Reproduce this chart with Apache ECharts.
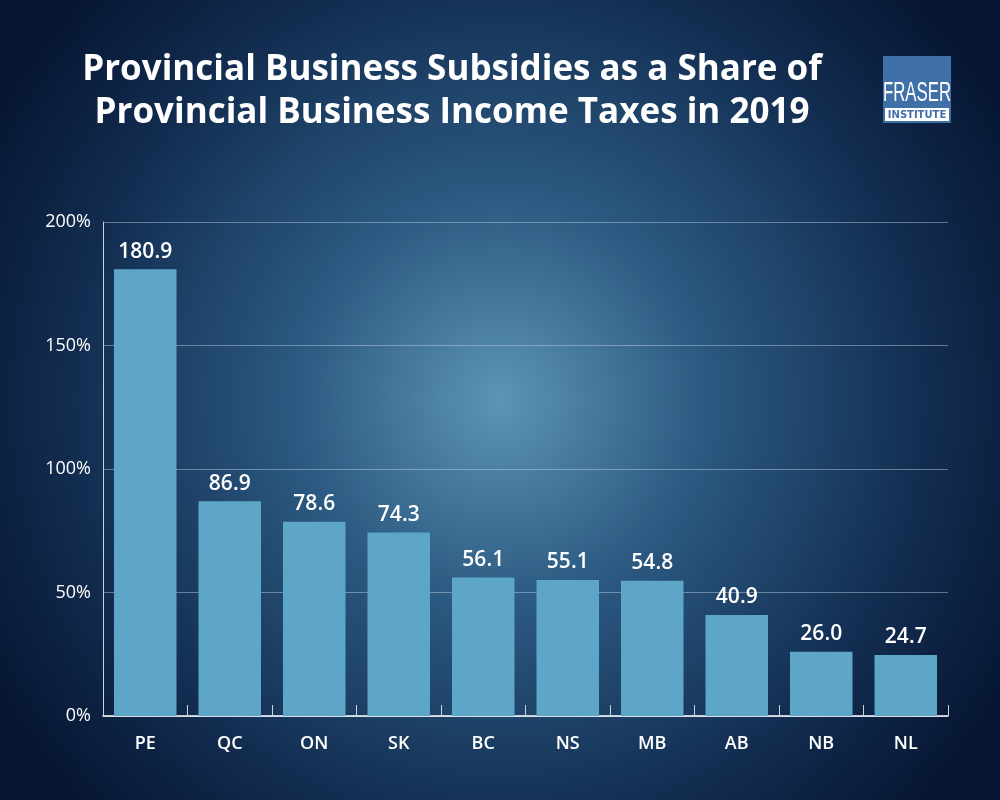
<!DOCTYPE html>
<html><head><meta charset="utf-8">
<script src="https://cdn.jsdelivr.net/npm/echarts@6/dist/echarts.min.js"></script>
<style>html,body{margin:0;padding:0;background:#0b2142}#c{width:1000px;height:800px}</style>
</head><body><div id="c"></div>
<script>
var categories = ['PE','QC','ON','SK','BC','NS','MB','AB','NB','NL'];
var values = [180.9, 86.9, 78.6, 74.3, 56.1, 55.1, 54.8, 40.9, 26.0, 24.7];
var yTicks = [0, 50, 100, 150, 200];
var titleLines = ['Provincial Business Subsidies as a Share of', 'Provincial Business Income Taxes in 2019'];

var chart = echarts.init(document.getElementById('c'));
chart.setOption({
  backgroundColor: {
    type: 'radial', x: 0.5, y: 0.5, r: 0.72,
    colorStops: [{offset: 0, color: '#5c95b4'}, {offset: 0.35, color: '#2c5a82'}, {offset: 0.75, color: '#122c50'}, {offset: 1, color: '#071733'}]
  },
  title: {
    text: titleLines.join('\n'), left: 447, top: 44, textAlign: 'center',
    textStyle: {color: '#fff', fontFamily: 'Open Sans', fontWeight: 'bold', fontSize: 35, lineHeight: 43}
  },
  graphic: [
    {type: 'rect', z: 10, shape: {x: 883, y: 56, width: 68, height: 67}, style: {fill: '#3f70a8'}},
    {type: 'rect', z: 11, shape: {x: 885, y: 108, width: 64, height: 13}, style: {fill: '#ffffff'}},
    {type: 'text', z: 12, x: 917, y: 93, scaleX: 0.6, style: {x: 0, y: 0, text: 'FRASER', fill: '#fff', font: '28px "Liberation Sans", sans-serif', textAlign: 'center', textVerticalAlign: 'middle'}},
    {type: 'text', z: 12, x: 917, y: 115, style: {x: 0, y: 0, text: 'INSTITUTE', fill: '#3f70a8', font: 'bold 10px "DejaVu Sans", sans-serif', textAlign: 'center', textVerticalAlign: 'middle'}}
  ],
  grid: {left: 103, right: 52, top: 222, bottom: 84},
  xAxis: {
    type: 'category', data: categories,
    axisLine: {lineStyle: {color: '#ffffff', width: 1.5}},
    axisTick: {show: true, inside: true, length: 11, lineStyle: {color: '#c8d3de'}},
    axisLabel: {color: '#fff', fontFamily: 'Open Sans', fontWeight: 600, fontSize: 18, margin: 19}
  },
  yAxis: {
    type: 'value', min: 0, max: 200, interval: 50,
    axisLine: {show: true, lineStyle: {color: '#c8d3de', width: 1}},
    axisTick: {show: false},
    splitLine: {lineStyle: {color: 'rgba(200,215,230,0.45)', width: 1}},
    axisLabel: {color: '#fff', fontFamily: 'Open Sans', fontSize: 18, margin: 12, formatter: function(v){ return yTicks.indexOf(v) >= 0 ? v + '%' : ''; }}
  },
  series: [{
    type: 'bar', data: values, barCategoryGap: '26%',
    itemStyle: {color: '#5da6c8'},
    label: {show: true, position: 'top', distance: 7, color: '#fff', fontFamily: 'Open Sans', fontWeight: 600, fontSize: 21, formatter: function(p){ return p.value.toFixed(1); }}
  }]
});
</script></body></html>
